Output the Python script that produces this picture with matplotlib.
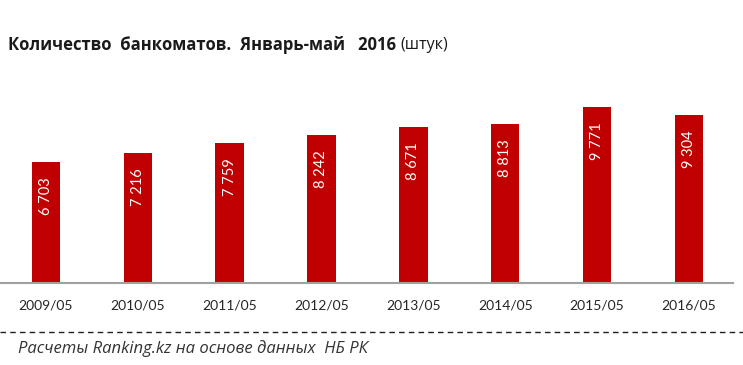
import matplotlib.pyplot as plt
from matplotlib.lines import Line2D

# данные
periods = ['2009/05', '2010/05', '2011/05', '2012/05', '2013/05', '2014/05', '2015/05', '2016/05']
atms = [6703, 7216, 7759, 8242, 8671, 8813, 9771, 9304]
labels = ['6 703', '7 216', '7 759', '8 242', '8 671', '8 813', '9 771', '9 304']

plt.rcParams['font.family'] = ['Lato', 'DejaVu Sans']

fig = plt.figure(figsize=(7.43, 3.65), dpi=100)
ax = fig.add_axes([0.0, (365 - 283) / 365, 733 / 743, 183 / 365])

x = range(len(periods))
ax.bar(x, atms, width=0.31, color='#C00000', zorder=2)

# подписи значений внутри столбцов
for i, (v, lab) in enumerate(zip(atms, labels)):
    ax.annotate(lab, (i, v), xytext=(0, -11), textcoords='offset points',
                rotation=90, ha='center', va='top', color='white', fontsize=10.5)

ax.set_xlim(-0.5, 7.48)
ax.set_ylim(0, 10161)
ax.set_xticks(list(x))
ax.set_xticklabels(periods, fontsize=10, color='#262626')
ax.tick_params(axis='x', length=0, pad=12)
ax.set_yticks([])
for s in ['top', 'left', 'right']:
    ax.spines[s].set_visible(False)
ax.spines['bottom'].set_color('#A0A0A0')
ax.spines['bottom'].set_linewidth(1.5)

# заголовок
t = fig.text(8 / 743, 1 - 45 / 365, 'Количество  банкоматов.  Январь-май   2016',
             fontsize=12, fontweight='bold', va='center', ha='left', color='#1a1a1a',
             family='Open Sans')
fig.canvas.draw()
bb = t.get_window_extent()
fig.text((bb.x1 + 4) / 743, 1 - 45 / 365, '(штук)', fontsize=11.5, va='center', ha='left',
         color='#1a1a1a', family='Open Sans')

# пунктирная линия и источник
fig.add_artist(Line2D([0, 1], [1 - 332 / 365, 1 - 332 / 365], transform=fig.transFigure,
                      color='#202020', linestyle=(0, (4, 3)), linewidth=1))
fig.text(18 / 743, 1 - 349 / 365, 'Расчеты Ranking.kz на основе данных  НБ РК',
         fontsize=12, style='italic', va='center', ha='left', color='#333333',
         family='Open Sans')

fig.savefig('out.png', dpi=100)
